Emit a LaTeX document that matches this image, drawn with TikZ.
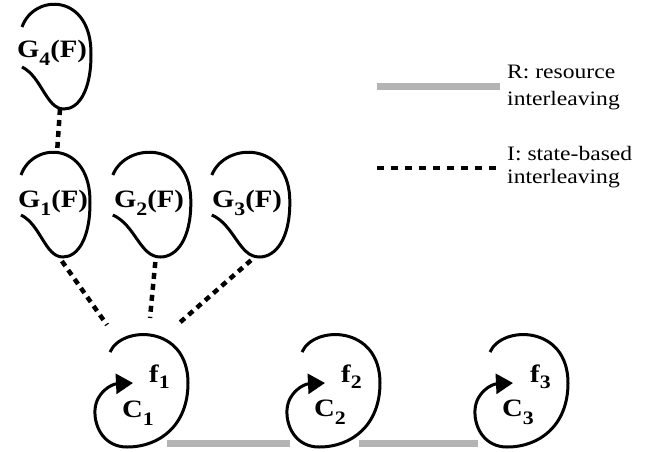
\documentclass[tikz,border=0pt]{standalone}
\usepackage{fontspec}
\setmainfont{Liberation Serif}
\newfontfamily\labfont[FakeStretch=1.15]{Liberation Serif}
\usetikzlibrary{arrows.meta}
\definecolor{rgray}{RGB}{180,180,180}
\newcommand{\glbl}[1]{{\labfont\bfseries\fontsize{25}{25}\selectfont G\raisebox{-8pt}{\fontsize{19}{19}\selectfont #1}(F)}}
\newcommand{\sublbl}[3]{{\labfont\bfseries\fontsize{25}{25}\selectfont #1\raisebox{-#3pt}{\fontsize{19}{19}\selectfont #2}}}
\newcommand{\legfont}{\labfont\fontsize{20.5}{24}\selectfont}
\begin{document}
\begin{tikzpicture}[x=1pt,y=-1pt,
  curve/.style={line width=3pt},
  rline/.style={line width=7pt,draw=rgray},
  iline/.style={line width=4.5pt,dash pattern=on 6pt off 5pt},
  lbl/.style={inner sep=0pt,anchor=base},
  slbl/.style={inner sep=0pt,anchor=base west},
  leg/.style={inner sep=0pt,anchor=base west,font=\legfont},
  gshape/.pic={
    \draw[curve] (-32,-28) .. controls (-20,-62) and (38,-62) .. (37,0)
      .. controls (37,35) and (25,54) .. (10,54)
      .. controls (-8,54) and (-12,22) .. (-32,12);
    \coordinate (-top) at (4,-50);
    \coordinate (-bot) at (6,54);
  },
  cshape/.pic={
    \draw[curve,-{Triangle[length=17pt,width=20pt]}] (-30,-38)
      .. controls (-18,-65) and (48,-65) .. (48,-7)
      .. controls (48,35) and (20,57) .. (-13,57)
      .. controls (-35,57) and (-46,38) .. (-45,20)
      .. controls (-44,2) and (-28,-6) .. (-7,-7);
    \coordinate (-t1) at (-33,-65);
    \coordinate (-t2) at (10,-72);
    \coordinate (-t3) at (37,-65);
    \coordinate (-br) at (27,53);
    \coordinate (-bl) at (-42,53);
  }]
\useasboundingbox (0,0) rectangle (651,451);

% G shapes
\pic (g4) at (54,55) {gshape};
\pic (g1) at (53,203) {gshape};
\pic[xscale=1.13] (g2) at (149,203) {gshape};
\pic[xscale=1.13] (g3) at (248,203) {gshape};
\node[lbl] (g4l) at (52,57) {\glbl{4}};
\node[lbl] (g1l) at (53,207) {\glbl{1}};
\node[lbl] (g2l) at (149,207) {\glbl{2}};
\node[lbl] (g3l) at (247,207) {\glbl{3}};

% C shapes
\pic (c1) at (140,390) {cshape};
\pic (c2) at (332,390) {cshape};
\pic (c3) at (520,390) {cshape};
\node[slbl] (f1) at (149,382) {\sublbl{f}{1}{6}};
\node[slbl] (f2) at (341,382) {\sublbl{f}{2}{6}};
\node[slbl] (f3) at (530,382) {\sublbl{f}{3}{6}};
\node[slbl] (cl1) at (122,417) {\sublbl{C}{1}{8}};
\node[slbl] (cl2) at (314,416) {\sublbl{C}{2}{8}};
\node[slbl] (cl3) at (502,416) {\sublbl{C}{3}{8}};

% state-based interleaving
\draw[iline] (g4-bot) -- (g1-top);
\draw[iline,shorten <=5pt] (g1-bot) -- (c1-t1);
\draw[iline,shorten <=5pt] (g2-bot) -- (c1-t2);
\draw[iline,shorten <=5pt] (g3-bot) -- (c1-t3);

% resource interleaving
\draw[rline] (c1-br) -- (c2-bl);
\draw[rline] (c2-br) -- (c3-bl);

% legend
\coordinate (r0) at (377,86);
\coordinate (r1) at (500,86);
\draw[rline] (r0) -- (r1);
\node[leg] (rt1) at (507,78) {R: resource};
\node[leg] (rt2) at (507,105) {interleaving};
\coordinate (i0) at (377,168);
\coordinate (i1) at (500,168);
\draw[iline,dash pattern=on 7pt off 7pt] (i0) -- (i1);
\node[leg] (it1) at (507,160) {I: state-based};
\node[leg] (it2) at (507,183) {interleaving};
\end{tikzpicture}
\end{document}
